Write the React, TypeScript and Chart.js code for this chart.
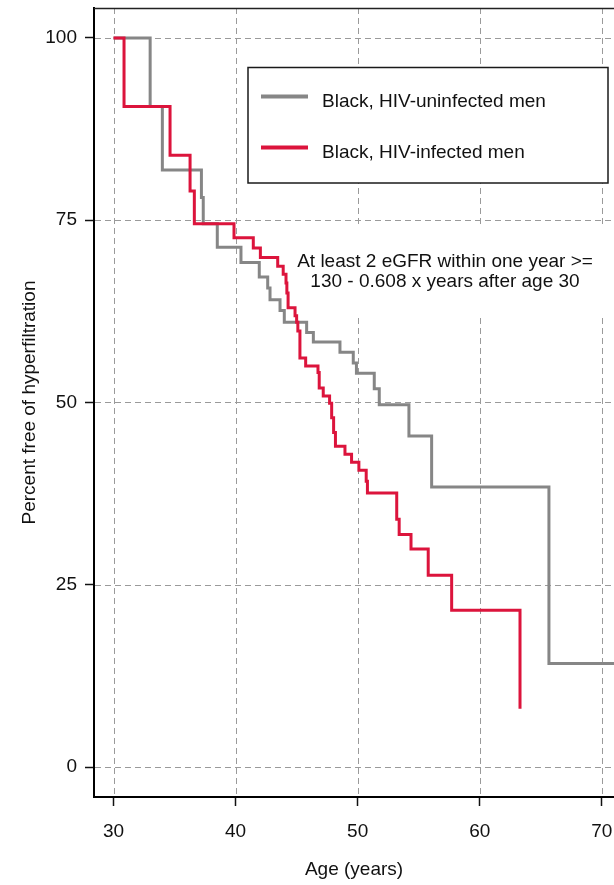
import { useEffect, useRef } from 'react';
import { Chart, registerables } from 'chart.js';

Chart.register(...registerables);

// Kaplan-Meier steps: age at each event and percent still free of hyperfiltration
const uninfectedAges = [30, 33.0, 34.0, 37.2, 37.35, 38.5, 40.44, 41.94, 42.63, 42.82, 43.64, 43.99, 45.82, 46.37, 48.55, 49.64, 49.9, 51.36, 51.77, 54.2, 56.06, 65.67, 72];
const uninfectedPct = [100, 90.6, 81.9, 78.1, 74.5, 71.3, 69.2, 67.2, 65.7, 64.1, 62.6, 61.0, 59.6, 58.3, 56.9, 55.4, 54.0, 51.9, 49.7, 45.4, 38.4, 14.2, 14.2];

const infectedAges = [30, 30.86, 34.63, 36.27, 36.62, 39.87, 41.45, 42.03, 43.45, 43.9, 44.13, 44.2, 44.3, 44.87, 45.0, 45.1, 45.27, 45.74, 46.75, 46.85, 47.18, 47.7, 47.87, 48.03, 48.18, 48.96, 49.5, 50.1, 50.7, 50.8, 53.2, 53.4, 54.37, 55.78, 57.7, 63.3];
const infectedPct = [100, 90.6, 83.9, 79.0, 74.5, 72.6, 71.2, 69.9, 68.7, 67.6, 66.4, 65.0, 63.0, 61.9, 61.0, 59.8, 56.1, 55.0, 54.1, 52.0, 50.9, 49.9, 47.9, 45.9, 44.0, 42.9, 41.8, 40.7, 39.2, 37.6, 34.0, 31.9, 29.9, 26.3, 21.5, 8.0];

const xTicks = [30, 40, 50, 60, 70];
const yTicks = [0, 25, 50, 75, 100];

const seriesLabels = ['Black, HIV-uninfected men', 'Black, HIV-infected men'];
const seriesColors = ['#868686', '#dc143c'];
const noteLines = ['At least 2 eGFR within one year >=', '130 - 0.608 x years after age 30'];

const FONT = '"Liberation Sans", Arial, Helvetica, sans-serif';
const TEXT = '#111111';

const toPoints = (xs: number[], ys: number[]) => xs.map((x, i) => ({ x, y: ys[i] }));

const decorations = {
  id: 'decorations',
  beforeDatasetsDraw(chart: any) {
    const { ctx, chartArea } = chart;
    const xs = chart.scales.x;
    const ys = chart.scales.y;
    ctx.save();
    ctx.strokeStyle = '#9a9a9a';
    ctx.lineWidth = 1;
    ctx.setLineDash([6, 4]);
    for (const v of yTicks) {
      const py = Math.round(ys.getPixelForValue(v)) + 0.5;
      ctx.beginPath();
      ctx.moveTo(chartArea.left + 1, py);
      ctx.lineTo(chartArea.right, py);
      ctx.stroke();
    }
    for (const v of xTicks) {
      const px = Math.round(xs.getPixelForValue(v)) + 0.5;
      ctx.beginPath();
      ctx.moveTo(px, chartArea.top);
      ctx.lineTo(px, chartArea.bottom - 1);
      ctx.stroke();
    }
    ctx.setLineDash([]);

    // blank panel behind the note text
    ctx.fillStyle = '#ffffff';
    ctx.fillRect(270, 224, chartArea.right - 270, 92);

    ctx.fillStyle = TEXT;
    ctx.font = `19px ${FONT}`;
    ctx.textAlign = 'center';
    ctx.textBaseline = 'alphabetic';
    ctx.fillText(noteLines[0], 445, 267);
    ctx.fillText(noteLines[1], 445, 287);
    ctx.restore();
  },
  afterDraw(chart: any) {
    const { ctx, chartArea } = chart;
    ctx.save();
    // frame along the top of the plot
    ctx.strokeStyle = '#222222';
    ctx.lineWidth = 1.5;
    ctx.beginPath();
    ctx.moveTo(chartArea.left, chartArea.top + 0.5);
    ctx.lineTo(chartArea.right, chartArea.top + 0.5);
    ctx.stroke();

    // legend box
    ctx.fillStyle = '#ffffff';
    ctx.fillRect(248, 67.5, 360, 115.5);
    ctx.strokeStyle = '#1a1a1a';
    ctx.lineWidth = 1.5;
    ctx.strokeRect(248, 67.5, 360, 115.5);
    const rows = [96.5, 147.5];
    ctx.font = `19px ${FONT}`;
    ctx.textAlign = 'left';
    ctx.textBaseline = 'alphabetic';
    rows.forEach((ry, i) => {
      ctx.strokeStyle = seriesColors[i];
      ctx.lineWidth = 4;
      ctx.beginPath();
      ctx.moveTo(261, ry);
      ctx.lineTo(308, ry);
      ctx.stroke();
      ctx.fillStyle = TEXT;
      ctx.fillText(seriesLabels[i], 322, ry + 10);
    });
    ctx.restore();
  },
};

export default function App() {
  const canvasRef = useRef<HTMLCanvasElement | null>(null);

  useEffect(() => {
    document.body.style.margin = '0';
    const canvas = canvasRef.current;
    if (!canvas) return;

    const chart = new Chart(canvas, {
      type: 'line',
      data: {
        datasets: [
          {
            label: seriesLabels[0],
            data: toPoints(uninfectedAges, uninfectedPct),
            borderColor: seriesColors[0],
            borderWidth: 3,
            stepped: 'before',
            pointRadius: 0,
            fill: false,
            order: 1,
          },
          {
            label: seriesLabels[1],
            data: toPoints(infectedAges, infectedPct),
            borderColor: seriesColors[1],
            borderWidth: 3,
            stepped: 'before',
            pointRadius: 0,
            fill: false,
            order: 0,
          },
        ],
      },
      options: {
        responsive: false,
        animation: false,
        events: [],
        layout: { padding: { top: 8, right: 0, left: 0, bottom: 0 } },
        plugins: {
          legend: { display: false },
          tooltip: { enabled: false },
        },
        scales: {
          x: {
            type: 'linear',
            min: 28.4,
            max: 71.0,
            afterBuildTicks: (scale: any) => {
              scale.ticks = xTicks.map((value) => ({ value }));
            },
            afterFit: (scale: any) => {
              scale.height = 88;
              scale.paddingLeft = 0;
              scale.paddingRight = 0;
            },
            grid: {
              display: true,
              drawOnChartArea: false,
              drawTicks: true,
              tickLength: 9,
              tickColor: '#111111',
              tickWidth: 1.5,
            },
            border: { display: true, color: '#000000', width: 2 },
            ticks: {
              color: TEXT,
              font: { family: FONT, size: 19 },
              padding: 14,
              maxRotation: 0,
              autoSkip: false,
            },
            title: {
              display: true,
              text: 'Age (years)',
              color: TEXT,
              font: { family: FONT, size: 19 },
              padding: { top: 0, bottom: 4 },
            },
          },
          y: {
            type: 'linear',
            min: -4.1,
            max: 104.1,
            afterBuildTicks: (scale: any) => {
              scale.ticks = yTicks.map((value) => ({ value }));
            },
            afterFit: (scale: any) => {
              scale.width = 94;
              scale.paddingTop = 0;
              scale.paddingBottom = 0;
            },
            grid: {
              display: true,
              drawOnChartArea: false,
              drawTicks: true,
              tickLength: 9,
              tickColor: '#111111',
              tickWidth: 1.5,
            },
            border: { display: true, color: '#000000', width: 2 },
            ticks: {
              color: TEXT,
              font: { family: FONT, size: 19 },
              padding: 8,
              autoSkip: false,
            },
            title: {
              display: true,
              text: 'Percent free of hyperfiltration',
              color: TEXT,
              font: { family: FONT, size: 19 },
              padding: { top: 18, bottom: 0 },
            },
          },
        },
      },
      plugins: [decorations],
    });

    return () => chart.destroy();
  }, []);

  return <canvas ref={canvasRef} width={614} height={885} style={{ display: 'block' }} />;
}
